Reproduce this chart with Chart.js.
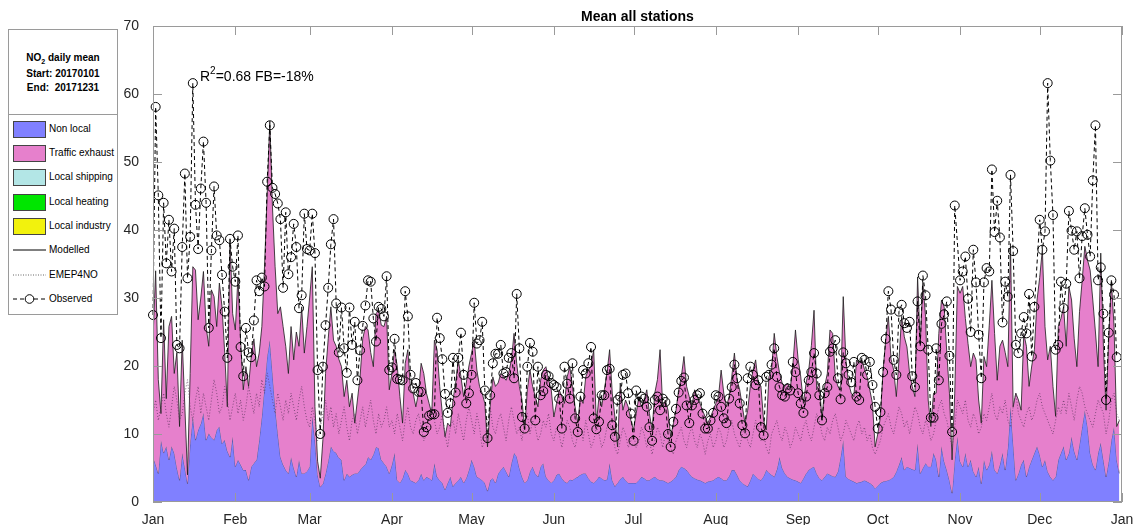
<!DOCTYPE html>
<html>
<head>
<meta charset="utf-8">
<script src="https://cdn.jsdelivr.net/npm/chart.js@4/dist/chart.umd.min.js"></script>
<style>
  body { margin: 0; background: #fff; }
  #wrap { position: relative; width: 1137px; height: 525px; }
  #legend { position: absolute; left: 8px; top: 29px; width: 108px; height: 284px; border: 1px solid #9a9a9a; background: #fff;
            font-family: "Liberation Sans", Arial, sans-serif; font-size: 10px; color: #000; }
  #legend .t { position: absolute; left: 0; width: 108px; text-align: center; font-weight: bold; line-height: 12px; }
  #legend .div { position: absolute; left: 0; top: 84px; width: 108px; height: 1px; background: #9a9a9a; }
  #legend .sw { position: absolute; left: 4px; width: 33px; height: 17px; box-sizing: border-box; border: 1px solid #444; }
  #legend .lb { position: absolute; left: 40px; line-height: 12px; white-space: nowrap; }
  #legend svg { position: absolute; left: 3px; }
</style>
</head>
<body>
<div id="wrap">
  <canvas id="chart" width="1137" height="525"></canvas>
  <div id="legend">
    <div class="t" style="top:22px">NO<sub style="font-size:7px">2</sub> daily mean</div>
    <div class="t" style="top:38px">Start: 20170101</div>
    <div class="t" style="top:52px">End:&nbsp; 20171231</div>
    <div class="div"></div>
    <div class="sw" style="top:91px;background:#8080ff"></div><div class="lb" style="top:93px">Non local</div>
    <div class="sw" style="top:115px;background:#e680cc"></div><div class="lb" style="top:117px">Traffic exhaust</div>
    <div class="sw" style="top:139px;background:#b3e6e6"></div><div class="lb" style="top:141px">Local shipping</div>
    <div class="sw" style="top:164px;background:#00e600"></div><div class="lb" style="top:166px">Local heating</div>
    <div class="sw" style="top:188px;background:#f2f20d"></div><div class="lb" style="top:190px">Local industry</div>
    <svg style="top:215px" width="36" height="10"><line x1="1" y1="5" x2="34" y2="5" stroke="#000" stroke-width="1"/></svg>
    <div class="lb" style="top:214px">Modelled</div>
    <svg style="top:240px" width="36" height="10"><line x1="1" y1="5" x2="34" y2="5" stroke="#666" stroke-width="1" stroke-dasharray="1,1.5"/></svg>
    <div class="lb" style="top:239px">EMEP4NO</div>
    <svg style="top:264px" width="36" height="10"><line x1="1" y1="5" x2="34" y2="5" stroke="#000" stroke-width="1" stroke-dasharray="4,3"/><circle cx="17.5" cy="5" r="4.3" fill="#fff" stroke="#000" stroke-width="1"/></svg>
    <div class="lb" style="top:263px">Observed</div>
  </div>
</div>
<script>
// x axis: day of year 2017, ticks at month starts
const monthStarts = [0, 31, 59, 90, 120, 151, 181, 212, 243, 273, 304, 334, 365];
const monthLabels = ['Jan', 'Feb', 'Mar', 'Apr', 'May', 'Jun', 'Jul', 'Aug', 'Sep', 'Oct', 'Nov', 'Dec', 'Jan'];
const yTicks = [0, 10, 20, 30, 40, 50, 60, 70];

// observed NO2 daily mean (one row per month)
const observed = [
  27.5,58.1,45.1,24.1,44.0,35.1,41.5,33.9,40.2,23.1,22.6,37.5,48.3,32.9,39.0,61.6,43.7,37.2,46.1,53.0,44.0,25.6,37.0,46.4,39.2,38.5,33.4,28.0,21.2,38.7,34.6,
  32.4,39.2,22.8,18.5,25.6,22.0,21.3,26.7,32.6,31.0,33.0,31.7,47.1,55.4,46.2,45.3,43.9,41.6,31.5,42.6,33.5,36.0,40.9,37.5,28.5,30.4,42.4,37.2,
  37.0,42.4,36.6,19.4,10.0,19.9,26.0,31.5,37.9,41.6,29.2,22.0,28.6,22.6,19.0,28.6,23.1,26.5,17.9,22.3,25.9,28.9,32.6,32.4,27.0,23.6,28.7,28.4,27.3,33.2,19.4,
  19.8,24.0,18.1,18.0,17.9,31.0,27.3,18.7,16.7,17.5,16.2,16.2,10.3,11.0,12.7,12.9,12.9,27.1,24.1,21.0,15.9,13.1,14.5,21.2,16.1,21.2,24.9,18.7,14.5,16.0,
  18.7,29.3,23.3,23.8,26.5,16.4,9.4,15.7,20.4,21.8,21.8,23.1,18.9,19.1,21.2,21.9,18.2,30.6,22.6,12.5,10.8,19.9,23.4,22.1,12.0,19.9,15.7,16.3,18.7,18.5,17.5,
  17.2,16.9,15.2,10.8,19.9,17.4,15.2,20.4,12.3,10.3,15.5,19.4,18.9,20.4,22.8,12.3,10.7,11.8,15.7,15.7,19.4,19.6,11.3,9.6,15.0,15.5,18.7,18.9,16.0,13.0,
  9.0,16.4,14.7,15.5,15.2,14.0,11.0,9.0,15.0,15.5,13.5,15.2,14.7,10.0,8.1,11.8,13.7,16.1,17.8,18.3,14.2,11.6,14.2,15.0,15.7,16.0,13.0,10.8,10.8,12.0,13.1,
  15.7,15.5,14.0,12.3,11.6,15.2,16.9,20.2,18.2,14.5,11.3,10.1,18.2,19.9,18.7,17.2,17.9,11.0,9.8,18.4,18.7,20.2,22.6,18.4,16.9,15.7,15.5,16.7,16.4,20.6,19.1,
  16.0,14.5,13.1,15.5,17.9,19.1,21.9,18.9,15.7,12.0,16.0,16.9,22.1,22.6,23.8,18.2,15.1,22.0,20.4,18.7,17.6,20.6,15.5,15.0,21.2,20.9,18.7,20.6,17.2,14.0,
  10.8,13.2,19.1,24.0,31.0,28.3,20.9,18.7,28.0,29.0,26.3,25.6,26.5,18.5,16.9,29.5,22.9,33.3,30.4,22.4,12.4,12.4,22.6,17.9,26.2,27.6,29.5,21.5,10.3,43.6,null,
  32.6,33.9,36.1,29.9,25.0,37.1,32.3,24.6,18.2,32.3,34.4,33.9,48.9,39.7,44.3,38.9,26.4,32.4,30.2,48.1,36.9,23.1,21.9,24.8,27.2,24.8,30.6,21.4,28.7,null,
  41.5,37.1,39.8,61.6,50.2,42.2,22.4,23.1,32.4,28.5,32.1,42.8,39.9,37.1,39.8,32.9,39.1,43.2,39.3,36.1,47.3,55.4,32.6,34.5,27.7,15.0,24.9,32.6,30.5,21.3,null
];

// modelled total (top of the stacked areas)
const modelled = [
  24,34,18,13,26.8,15.2,25.8,27.3,18.9,22,11.1,23.8,14,4,18.9,34.6,34.1,26.8,30,33.9,25.8,22.9,31.2,30.2,25.8,32.2,28.7,22,14,38.5,27.7,
  25.3,33.1,23.8,16.5,19.9,17,21.4,24,19.9,21.9,25.8,34.6,45,56,43.4,34.6,27.7,28.7,25.8,22.9,18.9,25.8,20.9,25,22.9,28.7,21.9,25.8,
  30,34.6,14,6,3.5,9.2,18.9,24,28.7,23.8,22.9,21,19.9,15.5,17.9,14,16,11.6,15,18.4,24,25.8,25.3,22,19.9,27.7,28.2,26,25.8,27.3,16.5,
  18.9,22.4,20,15.5,11.6,20.4,22.4,16.5,16,14,16,20.4,18.9,16,14.5,13,23.8,22.4,17,13,9.6,11.6,11.1,15,17.5,20.9,18.4,15.5,17.5,20,
  21.9,23.8,19.4,17,16,14.5,8.1,14,18.4,17,17.5,18.9,18.4,17.9,19,20.9,24.8,20.4,17,15,10.6,16.5,19.4,17,15.5,14,17.9,19.4,19.9,18,16.5,
  12.5,14.5,16.5,15.5,14.5,18.4,19.9,17,14,11.6,15.5,14.5,18.4,19.4,20,22.4,11.6,15.5,14,16.5,19,22.4,16,12.5,8.1,17.5,13.5,15,14,12,
  10.6,13,15.5,14,15,16.5,13,10.6,16,18,22.4,14,15,13.5,9.6,11.5,13.5,16.5,18.4,21.4,17,15.5,14,16.5,15.5,14.5,13.5,12.5,11.6,12.5,13.5,
  14.5,15.5,19.4,16,14,15.5,18.4,21.9,18,16.5,14,11.6,13.5,17,19.4,20.9,17.5,17,12,10.6,18.4,19.4,24.8,21.4,19,17.5,17,17.5,16.5,20,25.3,
  21,18.4,14.5,17.5,19.4,23,28.2,16.5,17.5,12,17,18.9,25.3,24.8,18.4,17,16.5,30.2,20.9,17.5,16,15.5,20.9,20.4,20.9,19.5,18.4,16.5,14.5,8.1,
  10,12.5,19.4,23.8,27.3,21,19.4,15.5,20.9,27.3,24.3,22.8,18.9,17,15.5,33.1,23.3,32.2,27.3,15,11.1,16,16,24.8,29.7,28.7,22,16,6.2,16,31.7,
  30.7,31.7,27,23.3,19.9,21.9,20.9,15,11.6,21.4,19.9,26,32.6,24.8,17.9,22.9,23.8,22,19.9,38,14,16,15,13.5,24.8,22.9,17,20,22.4,29.7,
  33,37.1,25.8,20.9,22.9,17,12.6,25.8,27,28.7,22.9,31.7,29.7,24,19.9,28,32.6,37.6,35.6,34.1,29.7,25,19.9,36.6,22.9,13.5,24,32.6,25.8,11.1,12
];

// non local contribution (bottom area)
const nonLocal = [
  6.6,5.5,4.2,9.1,7.2,8.2,6.2,8.2,7.2,5,3.2,7.2,5,2.7,8.6,12.6,9.1,10.6,11.5,13.1,9.1,10.1,9.5,9.1,10.6,11.1,8.6,9.1,7.5,6.6,9.6,
  5.2,6.2,5.5,4.7,4.7,3.2,5.2,5.7,6.2,9.1,12.6,17,21.4,23.8,19,14,10.1,6.6,5.5,4.7,4.2,6.6,5,3.7,6.2,4.2,4.2,4.5,
  5.2,12.6,9.1,4,2.2,2.7,4.2,6,8.2,7.5,7.2,6.5,6.2,3.2,4.2,3.7,4,4.2,4.2,4.7,5.2,5.5,6.6,6.2,7,8.1,7.9,6.2,5.7,5.2,4.2,
  5.5,7.2,3.2,2.8,3.5,4.7,4.2,3.2,3,2.8,3.2,4.2,3.2,3.7,3.5,3.2,5.7,3.7,3.2,2.8,1.8,2.8,3.7,2.3,2.8,3.2,3.7,2.8,3.5,4.7,
  6.2,5.2,3.7,3.5,3.2,2.8,1.6,3.2,3.5,2.8,4.2,4.7,5.2,4.5,3.7,5.7,7.2,6.7,5,3.7,2.8,3.2,4.5,5.2,4.2,3.7,5.2,5.7,3.7,3.2,2.8,
  3.2,4,4.2,3.5,3,2.8,3.3,3.2,3.5,3.7,4,4.2,4.2,3.5,3,2.8,3.2,3.7,3.5,3.2,3.3,5.7,3.2,2.3,2.8,3.4,3.7,3.2,2.8,2.8,
  2.8,2.8,3.2,3.7,3.5,3.2,3.2,3.5,3.7,3.4,3.2,3.2,3,2.8,3,3.3,3.7,4.7,5.2,5,4.7,4.2,3.7,3.5,3.3,3.2,3,2.8,3,3.1,3.2,
  3.5,3.7,3.5,3.2,3.2,3.8,4.7,4.7,4,3.2,2.8,2.5,2.3,3.2,4.2,3.8,3.4,3.2,3.8,4.7,4.3,4,3.7,4.8,6.6,5,4.2,3.7,3.5,3.3,3.2,
  3,2.8,3.5,4.2,4.7,5,5.2,4.2,3.5,3.2,3.7,4.2,4,3.8,3.7,4.5,6.6,9.1,3.7,3.4,3.2,3,2.8,2.9,3,3.2,3,2.8,2.5,2,
  2.4,2.8,3,3.1,3.2,3.4,3.7,4.5,5.5,6.6,4.7,5.2,5,4.8,4.7,8.6,4.2,5,5.7,5.2,5.2,7.2,6.2,3.7,8.2,6,4.7,3.2,1.3,6.2,9.6,
  6,5.2,7.2,5.2,6.2,4.5,3.7,5.2,2.7,6.2,4.7,5.5,7.6,4.7,4.2,5.5,7.2,4.7,8,14,8.7,3.2,4.2,5.5,6.2,3.7,5.2,6.2,7.2,8.2,
  7,5.2,6.2,4.5,3.7,3.2,3.7,6.2,7.2,8.2,6.2,7.2,9.6,7.5,6.2,8.5,11.1,13.5,11.1,7.2,5.5,4.7,7.2,8.7,6.2,3.7,6,9.1,11.1,6.2,4.2
];

// EMEP4NO regional model (dotted)
const emep4no = [
  13,15,12,14,16,13,11,14,17,15,12,13,16,18,14,12,15,17,13,16,14,12,15,18,16,13,14,17,15,12,14,
  16,13,15,12,14,17,15,13,16,14,18,16,19,17,15,13,16,14,12,15,13,16,14,12,15,17,14,12,
  11,14,12,9,11,13,15,12,14,11,13,10,12,14,11,9,12,13,10,12,14,11,13,15,12,10,13,11,12,14,11,
  12,10,13,11,9,12,14,11,10,12,13,11,9,10,12,14,12,10,11,13,10,8,11,12,10,13,11,9,12,14,
  12,10,13,11,8,9,12,14,11,10,12,13,11,9,12,14,12,10,11,9,12,13,10,12,11,9,10,12,11,13,10,
  9,11,10,8,10,12,11,9,8,10,11,9,12,10,8,9,11,10,8,9,11,12,10,8,7,9,11,10,8,9,
  10,8,9,11,10,8,9,7,9,11,10,8,10,9,8,7,9,10,11,9,8,10,11,9,8,10,9,7,9,10,8,
  9,11,10,8,9,11,12,10,9,8,10,11,9,8,10,12,11,9,10,8,7,10,11,12,10,9,11,10,8,9,11,
  10,9,11,12,10,9,11,13,12,10,9,11,10,12,13,11,9,10,12,11,10,9,11,12,10,11,9,10,8,7,
  8,9,11,12,13,11,10,12,14,13,11,12,10,12,14,13,11,10,12,11,9,10,12,14,15,13,12,10,8,11,15,
  14,13,15,12,11,13,12,10,11,13,12,14,16,13,12,14,13,15,12,11,14,16,13,12,11,13,14,12,13,15,
  16,14,13,12,11,10,12,14,13,15,13,16,14,12,15,17,16,14,13,12,11,13,15,14,13,10,12,15,16,13,12
];

const FONT = '"Liberation Sans", Arial, sans-serif';

function toXY(arr) {
    return arr.map((v, i) => ({x: i, y: v}));
}

const axesFrame = {
    id: 'axesFrame',
    afterDatasetsDraw(chart) {
        const {ctx, chartArea: a, scales: {x, y}} = chart;
        ctx.save();
        ctx.strokeStyle = '#9a9a9a';
        ctx.lineWidth = 1;
        ctx.strokeRect(a.left + 0.5, a.top + 0.5, a.right - a.left - 1, a.bottom - a.top - 1);
        ctx.beginPath();
        monthStarts.forEach(d => {
            const px = Math.round(x.getPixelForValue(d)) + 0.5;
            ctx.moveTo(px, a.bottom); ctx.lineTo(px, a.bottom - 9);
            ctx.moveTo(px, a.top); ctx.lineTo(px, a.top + 9);
        });
        yTicks.forEach(v => {
            const py = Math.round(y.getPixelForValue(v)) + 0.5;
            ctx.moveTo(a.left, py); ctx.lineTo(a.left + 9, py);
            ctx.moveTo(a.right, py); ctx.lineTo(a.right - 9, py);
        });
        ctx.stroke();

        // title
        ctx.fillStyle = '#000';
        ctx.font = 'bold 14px ' + FONT;
        ctx.textAlign = 'center';
        ctx.textBaseline = 'alphabetic';
        ctx.fillText('Mean all stations', (a.left + a.right) / 2, 21);

        // statistics text
        ctx.textAlign = 'left';
        ctx.font = '14px ' + FONT;
        let tx = 200;
        ctx.fillText('R', tx, 81);
        tx += ctx.measureText('R').width;
        ctx.font = '10px ' + FONT;
        ctx.fillText('2', tx, 74);
        tx += ctx.measureText('2').width;
        ctx.font = '14px ' + FONT;
        ctx.fillText('=0.68 FB=-18%', tx, 81);
        ctx.restore();
    }
};

const ctx = document.getElementById('chart');
const chart = new Chart(ctx, {
    type: 'line',
    data: {
        datasets: [{
            label: 'Observed',
            data: toXY(observed),
            borderColor: '#000',
            borderWidth: 1,
            borderDash: [4, 3],
            pointRadius: 4.5,
            pointStyle: 'circle',
            pointBorderColor: '#000',
            pointBackgroundColor: 'rgba(0,0,0,0)',
            pointBorderWidth: 1,
            spanGaps: true,
            fill: false,
            clip: 8,
            order: 0
        }, {
            label: 'EMEP4NO',
            data: toXY(emep4no),
            borderColor: 'rgba(95,55,95,0.75)',
            borderWidth: 1,
            borderDash: [1, 2],
            pointRadius: 0,
            fill: false,
            order: 1
        }, {
            label: 'Traffic exhaust',
            data: toXY(modelled),
            borderColor: '#1a1a1a',
            borderWidth: 0.8,
            backgroundColor: '#e680cc',
            fill: 3,
            pointRadius: 0,
            order: 2
        }, {
            label: 'Non local',
            data: toXY(nonLocal),
            borderColor: '#3a3a5a',
            borderWidth: 0.6,
            backgroundColor: '#8080ff',
            fill: 'origin',
            pointRadius: 0,
            order: 3
        }]
    },
    options: {
        responsive: false,
        devicePixelRatio: 1,
        animation: false,
        layout: { padding: { top: 26, right: 15, left: 0, bottom: 0 } },
        plugins: {
            legend: { display: false },
            tooltip: { enabled: false }
        },
        elements: { line: { tension: 0 } },
        scales: {
            x: {
                type: 'linear',
                min: 0,
                max: 365,
                grid: { display: false },
                border: { display: false },
                afterBuildTicks: s => { s.ticks = monthStarts.map(v => ({value: v})); },
                afterFit: s => { s.height = 23; s.paddingLeft = 0; s.paddingRight = 0; },
                ticks: {
                    padding: 2,
                    color: '#262626',
                    font: { family: FONT, size: 14 },
                    maxRotation: 0,
                    autoSkip: false,
                    callback: function(value) {
                        return monthLabels[monthStarts.indexOf(value)];
                    }
                }
            },
            y: {
                min: 0,
                max: 70,
                grid: { display: false },
                border: { display: false },
                afterBuildTicks: s => { s.ticks = yTicks.map(v => ({value: v})); },
                afterFit: s => { s.width = 153; s.paddingTop = 0; s.paddingBottom = 0; },
                ticks: {
                    padding: 6,
                    color: '#262626',
                    font: { family: FONT, size: 14 }
                }
            }
        }
    },
    plugins: [axesFrame]
});
</script>
</body>
</html>
